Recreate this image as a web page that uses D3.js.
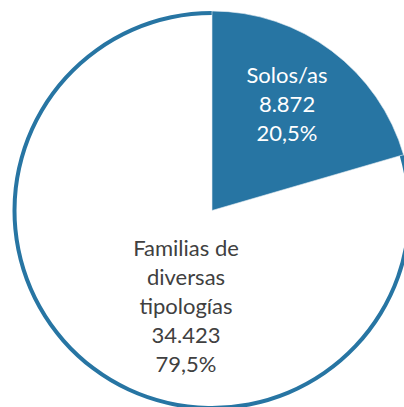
<!DOCTYPE html>
<html>
<head>
<meta charset="utf-8">
<script src="https://cdn.jsdelivr.net/npm/d3@7"></script>
<style>
  html, body { margin: 0; padding: 0; background: #fff; overflow: hidden; }
  svg { display: block; }
</style>
</head>
<body>
<div id="chart"></div>
<script>
// data
const categories = ['Solos/as', 'Familias de diversas tipologías'];
const values = [8872, 34423];
const percents = ['20,5%', '79,5%'];
const valueLabels = ['8.872', '34.423'];
const labelLines = [
  ['Solos/as'],
  ['Familias de', 'diversas', 'tipologías']
];

const width = 404, height = 407;
const cx = 212, cy = 210.5;
const r = 197.5;
const blue = '#2775A3';

const svg = d3.select('#chart')
  .append('svg')
    .attr('width', width)
    .attr('height', height);

const g = svg.append('g')
  .attr('transform', 'translate(' + cx + ',' + cy + ')');

const pie = d3.pie().sort(null).value(d => d);
const arcs = pie(values);

// white slice: fill + blue outline band
const fillArc = d3.arc().innerRadius(0).outerRadius(r);
const bandArc = d3.arc().innerRadius(r - 2).outerRadius(r + 2);
const blueArc = d3.arc().innerRadius(0).outerRadius(r + 2);

g.append('path')
  .attr('d', fillArc(arcs[1]))
  .attr('fill', '#fff');

g.append('path')
  .attr('d', bandArc(arcs[1]))
  .attr('fill', blue);

g.append('path')
  .attr('d', blueArc(arcs[0]))
  .attr('fill', blue)
  .attr('stroke', '#e8eef3')
  .attr('stroke-width', 0.6);

// labels (position = mean baseline of the block)
const lineH = 29;
const font = 'Lato, "Open Sans", sans-serif';
const c0 = d3.arc().innerRadius(125).outerRadius(125).centroid(arcs[0]);
const labelPos = [
  [c0[0], c0[1] + 1],
  [-26, 103]
];
const labelColor = ['#fff', '#404040'];

arcs.forEach((a, i) => {
  const lines = labelLines[i].concat([valueLabels[i], percents[i]]);
  const [lx, ly] = labelPos[i];
  const t = g.append('text')
    .attr('text-anchor', 'middle')
    .attr('font-family', font)
    .attr('font-size', 22)
    .attr('fill', labelColor[i]);
  const y0 = ly - (lines.length - 1) * lineH / 2;
  lines.forEach((ln, j) => {
    t.append('tspan')
      .attr('x', lx)
      .attr('y', y0 + j * lineH)
      .text(ln);
  });
});
</script>
</body>
</html>
